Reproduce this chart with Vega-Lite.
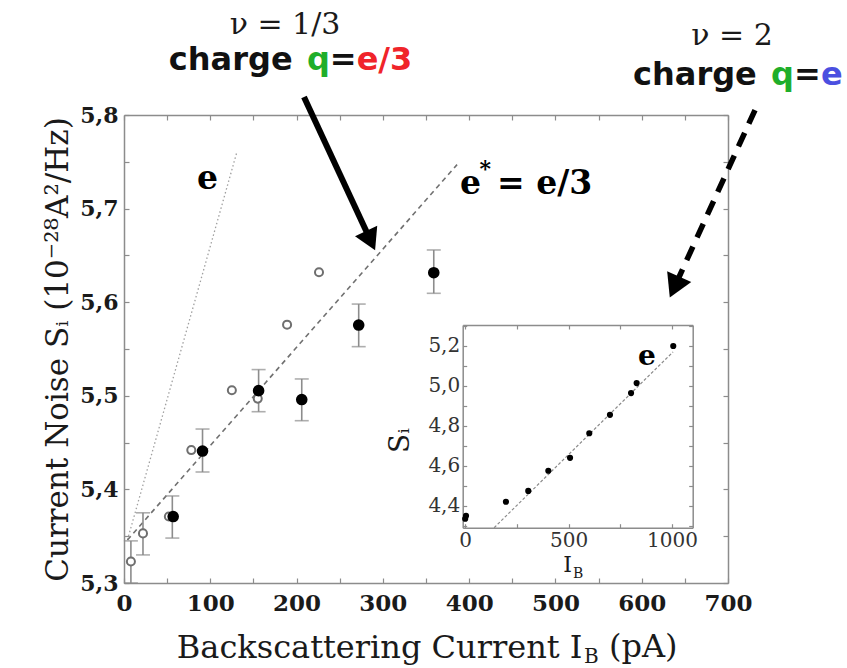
{
"$schema":"https://vega.github.io/schema/vega-lite/v6.json",
"width":604,"height":468,
"autosize":{"type":"none"},
"padding":{"left":124,"top":115,"right":119,"bottom":85},
"background":"white",
"config":{"view":{"stroke":null},"axis":{"grid":false,"labelFont":"DejaVu Serif","titleFont":"DejaVu Serif","domainColor":"#8c8c8c","tickColor":"#8c8c8c","domainWidth":1.5,"tickWidth":1.2,"labelColor":"#1a1a1a","titleColor":"#1a1a1a","titleFontWeight":"normal"}},
"resolve":{"scale":{"x":"independent","y":"independent"}},
"layer":[
{"layer":[
 {"data":{"values":[{"x":4,"y":5.346},{"x":131,"y":5.761}]},
  "mark":{"type":"line","color":"#a0a0a0","strokeWidth":1.3,"strokeDash":[1.5,2.5]},
  "encoding":{
   "x":{"field":"x","type":"quantitative","scale":{"domain":[0,700],"nice":false,"zero":false},
     "axis":{"orient":"bottom","values":[0,50,100,150,200,250,300,350,400,450,500,550,600,650,700],"labelExpr":"datum.value % 100 === 0 ? datum.label : ''","tickSize":-5,"labelPadding":14,"labelFontSize":23,"labelFontWeight":"bold","labelOverlap":false,"labelFlush":false,"title":"Backscattering Current I","titleFontSize":32,"titleX":458,"titleY":74,"titleBaseline":"alphabetic","titleAlign":"right"}},
   "y":{"field":"y","type":"quantitative","scale":{"domain":[5.3,5.8],"nice":false,"zero":false},
     "axis":{"orient":"left","values":[5.3,5.35,5.4,5.45,5.5,5.55,5.6,5.65,5.7,5.75,5.8],"labelExpr":"abs(datum.value*10 - round(datum.value*10)) < 0.001 ? replace(format(datum.value, '.1f'), '.', ',') : ''","tickSize":-5,"labelPadding":11,"labelFontSize":22,"labelFontWeight":"bold","labelOverlap":false,"labelFlush":false,"title":"Current Noise Sᵢ (10⁻²⁸A²/Hz)","titleFontSize":31,"titleX":-57,"titleY":234,"titleBaseline":"alphabetic","titleAngle":270,"titleAlign":"center"}}
  }},
 {"data":{"values":[{"x":4,"y":5.346},{"x":386,"y":5.747}]},
  "mark":{"type":"line","color":"#707070","strokeWidth":1.6,"strokeDash":[5,4]},
  "encoding":{
   "x":{"field":"x","type":"quantitative","scale":{"domain":[0,700],"nice":false,"zero":false},
     "axis":{"orient":"top","values":[0,50,100,150,200,250,300,350,400,450,500,550,600,650,700],"labels":false,"tickSize":-5,"title":null}},
   "y":{"field":"y","type":"quantitative","scale":{"domain":[5.3,5.8],"nice":false,"zero":false},
     "axis":{"orient":"right","values":[5.3,5.35,5.4,5.45,5.5,5.55,5.6,5.65,5.7,5.75,5.8],"labels":false,"tickSize":-5,"title":null}}
  }},
 {"data":{"values":[{"x":8,"lo":5.3,"hi":5.345},{"x":22,"lo":5.33,"hi":5.375},{"x":56,"lo":5.348,"hi":5.393},{"x":91,"lo":5.4186,"hi":5.4645},{"x":156,"lo":5.483,"hi":5.528},{"x":206,"lo":5.4734,"hi":5.518},{"x":272,"lo":5.5525,"hi":5.598},{"x":359,"lo":5.6095,"hi":5.6558}]},
  "mark":{"type":"rule","color":"#8c8c8c","strokeWidth":1.6},
  "encoding":{
   "x":{"field":"x","type":"quantitative","scale":{"domain":[0,700],"nice":false,"zero":false},"axis":null},
   "y":{"field":"lo","type":"quantitative","scale":{"domain":[5.3,5.8],"nice":false,"zero":false},"axis":null},
   "y2":{"field":"hi"}
  }},
 {"data":{"values":[{"x":8,"lo":5.3,"hi":5.345},{"x":22,"lo":5.33,"hi":5.375},{"x":56,"lo":5.348,"hi":5.393},{"x":91,"lo":5.4186,"hi":5.4645},{"x":156,"lo":5.483,"hi":5.528},{"x":206,"lo":5.4734,"hi":5.518},{"x":272,"lo":5.5525,"hi":5.598},{"x":359,"lo":5.6095,"hi":5.6558}]},
  "transform":[{"fold":["lo","hi"],"as":["end","v"]}],
  "mark":{"type":"tick","orient":"horizontal","color":"#8c8c8c","size":14,"thickness":1.6},
  "encoding":{
   "x":{"field":"x","type":"quantitative","scale":{"domain":[0,700],"nice":false,"zero":false},"axis":null},
   "y":{"field":"v","type":"quantitative","scale":{"domain":[5.3,5.8],"nice":false,"zero":false},"axis":null}
  }},
 {"data":{"values":[{"x":8,"y":5.323},{"x":22,"y":5.353},{"x":52,"y":5.371},{"x":78,"y":5.442},{"x":125,"y":5.506},{"x":155,"y":5.497},{"x":189,"y":5.576},{"x":226,"y":5.632}]},
  "mark":{"type":"circle","fill":"white","fillOpacity":1,"stroke":"#6f6f6f","strokeWidth":2,"size":65,"opacity":1},
  "encoding":{
   "x":{"field":"x","type":"quantitative","scale":{"domain":[0,700],"nice":false,"zero":false},"axis":null},
   "y":{"field":"y","type":"quantitative","scale":{"domain":[5.3,5.8],"nice":false,"zero":false},"axis":null}
  }},
 {"data":{"values":[{"x":57,"y":5.371},{"x":91,"y":5.441},{"x":156,"y":5.5055},{"x":206,"y":5.496},{"x":272,"y":5.5756},{"x":359,"y":5.6315}]},
  "mark":{"type":"circle","color":"#000","size":135,"opacity":1},
  "encoding":{
   "x":{"field":"x","type":"quantitative","scale":{"domain":[0,700],"nice":false,"zero":false},"axis":null},
   "y":{"field":"y","type":"quantitative","scale":{"domain":[5.3,5.8],"nice":false,"zero":false},"axis":null}
  }},
 {"data":{"values":[{"x":84.6,"y":5.7209,"t":"e"},{"x":389.4,"y":5.7156,"t":"e"},{"x":432.3,"y":5.7156,"t":"= e/3"}]},
  "mark":{"type":"text","align":"left","baseline":"alphabetic","font":"DejaVu Serif","fontWeight":"bold","fontSize":33,"color":"#000"},
  "encoding":{
   "x":{"field":"x","type":"quantitative","scale":{"domain":[0,700],"nice":false,"zero":false},"axis":null},
   "y":{"field":"y","type":"quantitative","scale":{"domain":[5.3,5.8],"nice":false,"zero":false},"axis":null},
   "text":{"field":"t"}
  }},
 {"data":{"values":[{"x":412,"y":5.7348,"t":"*"}]},
  "mark":{"type":"text","align":"left","baseline":"alphabetic","font":"DejaVu Serif","fontWeight":"bold","fontSize":22,"color":"#000"},
  "encoding":{
   "x":{"field":"x","type":"quantitative","scale":{"domain":[0,700],"nice":false,"zero":false},"axis":null},
   "y":{"field":"y","type":"quantitative","scale":{"domain":[5.3,5.8],"nice":false,"zero":false},"axis":null},
   "text":{"field":"t"}
  }},
 {"data":{"values":[{"x":533.1,"y":5.2145,"t":"B"}]},
  "mark":{"type":"text","align":"left","baseline":"alphabetic","font":"DejaVu Serif","fontSize":20,"color":"#1a1a1a"},
  "encoding":{
   "x":{"field":"x","type":"quantitative","scale":{"domain":[0,700],"nice":false,"zero":false},"axis":null},
   "y":{"field":"y","type":"quantitative","scale":{"domain":[5.3,5.8],"nice":false,"zero":false},"axis":null},
   "text":{"field":"t"}
  }},
 {"data":{"values":[{"x":562.1,"y":5.2209,"t":"(pA)"}]},
  "mark":{"type":"text","align":"left","baseline":"alphabetic","font":"DejaVu Serif","fontSize":32,"color":"#1a1a1a"},
  "encoding":{
   "x":{"field":"x","type":"quantitative","scale":{"domain":[0,700],"nice":false,"zero":false},"axis":null},
   "y":{"field":"y","type":"quantitative","scale":{"domain":[5.3,5.8],"nice":false,"zero":false},"axis":null},
   "text":{"field":"t"}
  }},
 {"data":{"values":[{"x":186.6,"y":5.8865,"t":"ν = 1/3"},{"x":704.6,"y":5.8748,"t":"ν = 2"}]},
  "mark":{"type":"text","align":"center","baseline":"alphabetic","font":"DejaVu Serif","fontSize":30,"color":"#1a1a1a"},
  "encoding":{
   "x":{"field":"x","type":"quantitative","scale":{"domain":[0,700],"nice":false,"zero":false},"axis":null},
   "y":{"field":"y","type":"quantitative","scale":{"domain":[5.3,5.8],"nice":false,"zero":false},"axis":null},
   "text":{"field":"t"}
  }},
 {"data":{"values":[{"x":52,"y":5.8486,"t":"charge"},{"x":238.5,"y":5.8486,"t":"="},{"x":590,"y":5.832,"t":"charge"},{"x":776.5,"y":5.832,"t":"="}]},
  "mark":{"type":"text","align":"left","baseline":"alphabetic","font":"DejaVu Sans","fontWeight":"bold","fontSize":32,"color":"#111"},
  "encoding":{
   "x":{"field":"x","type":"quantitative","scale":{"domain":[0,700],"nice":false,"zero":false},"axis":null},
   "y":{"field":"y","type":"quantitative","scale":{"domain":[5.3,5.8],"nice":false,"zero":false},"axis":null},
   "text":{"field":"t"}
  }},
 {"data":{"values":[{"x":212.0,"y":5.8486,"t":"q"},{"x":749.8,"y":5.832,"t":"q"}]},
  "mark":{"type":"text","align":"left","baseline":"alphabetic","font":"DejaVu Sans","fontWeight":"bold","fontSize":32,"color":"#1fae2a"},
  "encoding":{
   "x":{"field":"x","type":"quantitative","scale":{"domain":[0,700],"nice":false,"zero":false},"axis":null},
   "y":{"field":"y","type":"quantitative","scale":{"domain":[5.3,5.8],"nice":false,"zero":false},"axis":null},
   "text":{"field":"t"}
  }},
 {"data":{"values":[{"x":269.6,"y":5.8486,"t":"e/3"}]},
  "mark":{"type":"text","align":"left","baseline":"alphabetic","font":"DejaVu Sans","fontWeight":"bold","fontSize":32,"color":"#f0242a"},
  "encoding":{
   "x":{"field":"x","type":"quantitative","scale":{"domain":[0,700],"nice":false,"zero":false},"axis":null},
   "y":{"field":"y","type":"quantitative","scale":{"domain":[5.3,5.8],"nice":false,"zero":false},"axis":null},
   "text":{"field":"t"}
  }},
 {"data":{"values":[{"x":807.8,"y":5.832,"t":"e"}]},
  "mark":{"type":"text","align":"left","baseline":"alphabetic","font":"DejaVu Sans","fontWeight":"bold","fontSize":32,"color":"#4b4fe0"},
  "encoding":{
   "x":{"field":"x","type":"quantitative","scale":{"domain":[0,700],"nice":false,"zero":false},"axis":null},
   "y":{"field":"y","type":"quantitative","scale":{"domain":[5.3,5.8],"nice":false,"zero":false},"axis":null},
   "text":{"field":"t"}
  }},
 {"data":{"values":[{"x":208.6,"y":5.8192,"x2":285.8,"y2":5.6658}]},
  "mark":{"type":"rule","color":"#000","strokeWidth":6,"strokeCap":"butt"},
  "encoding":{
   "x":{"field":"x","type":"quantitative","scale":{"domain":[0,700],"nice":false,"zero":false},"axis":null},
   "y":{"field":"y","type":"quantitative","scale":{"domain":[5.3,5.8],"nice":false,"zero":false},"axis":null},
   "x2":{"field":"x2"},"y2":{"field":"y2"}
  }},
 {"data":{"values":[{"x":731.3,"y":5.8053,"x2":638.0,"y2":5.6162}]},
  "mark":{"type":"rule","color":"#000","strokeWidth":5.5,"strokeCap":"butt","strokeDash":[15,10]},
  "encoding":{
   "x":{"field":"x","type":"quantitative","scale":{"domain":[0,700],"nice":false,"zero":false},"axis":null},
   "y":{"field":"y","type":"quantitative","scale":{"domain":[5.3,5.8],"nice":false,"zero":false},"axis":null},
   "x2":{"field":"x2"},"y2":{"field":"y2"}
  }},
 {"data":{"values":[{"x":285.8,"y":5.6658}]},
  "mark":{"type":"point","shape":"triangle-up","filled":true,"color":"#000","opacity":1,"size":600,"angle":155},
  "encoding":{
   "x":{"field":"x","type":"quantitative","scale":{"domain":[0,700],"nice":false,"zero":false},"axis":null},
   "y":{"field":"y","type":"quantitative","scale":{"domain":[5.3,5.8],"nice":false,"zero":false},"axis":null}
  }},
 {"data":{"values":[{"x":638.0,"y":5.6162}]},
  "mark":{"type":"point","shape":"triangle-up","filled":true,"color":"#000","opacity":1,"size":700,"angle":204.3},
  "encoding":{
   "x":{"field":"x","type":"quantitative","scale":{"domain":[0,700],"nice":false,"zero":false},"axis":null},
   "y":{"field":"y","type":"quantitative","scale":{"domain":[5.3,5.8],"nice":false,"zero":false},"axis":null}
  }}
]},
{"layer":[
 {"data":{"values":[{"x":140,"y":4.29},{"x":1005,"y":5.17}]},
  "mark":{"type":"line","color":"#8a8a8a","strokeWidth":1.2,"strokeDash":[3,2]},
  "encoding":{
   "x":{"field":"x","type":"quantitative","scale":{"domain":[-12,1100],"range":[338.7,568.7],"nice":false,"zero":false},
     "axis":{"orient":"bottom","offset":-55.3,"values":[0,250,500,750,1000],"labelExpr":"datum.value % 500 === 0 ? format(datum.value, 'd') : ''","tickSize":-4,"labelPadding":7,"labelFontSize":20,"labelColor":"#333","labelOverlap":false,"labelFlush":false,"title":"I","titleFontSize":22,"titleX":443,"titleY":44,"titleBaseline":"alphabetic","titleAlign":"center"}},
   "y":{"field":"y","type":"quantitative","scale":{"domain":[4.29,5.305],"range":[412.7,210],"nice":false,"zero":false},
     "axis":{"orient":"left","offset":-338.7,"values":[4.3,4.4,4.5,4.6,4.7,4.8,4.9,5.0,5.1,5.2,5.3],"labelExpr":"round(datum.value*10) % 2 === 0 && datum.value > 4.35 && datum.value < 5.25 ? replace(format(datum.value, '.1f'), '.', ',') : ''","tickSize":-4,"labelPadding":7,"labelFontSize":20,"labelColor":"#333","labelOverlap":false,"labelFlush":false,"title":"Sᵢ","titleFontSize":28,"titleX":-54,"titleY":325,"titleBaseline":"alphabetic","titleAngle":270,"titleAlign":"center"}}
  }},
 {"data":{"values":[{"x":0,"y":4.335},{"x":4,"y":4.35},{"x":197,"y":4.42},{"x":305,"y":4.474},{"x":402,"y":4.575},{"x":507,"y":4.64},{"x":600,"y":4.763},{"x":700,"y":4.855},{"x":802,"y":4.964},{"x":829,"y":5.014},{"x":1006,"y":5.2}]},
  "mark":{"type":"circle","color":"#000","size":38,"opacity":1},
  "encoding":{
   "x":{"field":"x","type":"quantitative","scale":{"domain":[-12,1100],"range":[338.7,568.7],"nice":false,"zero":false},
     "axis":{"orient":"top","offset":-210,"values":[0,250,500,750,1000],"labels":false,"tickSize":-4,"title":null}},
   "y":{"field":"y","type":"quantitative","scale":{"domain":[4.29,5.305],"range":[412.7,210],"nice":false,"zero":false},
     "axis":{"orient":"right","offset":-35.3,"values":[4.3,4.4,4.5,4.6,4.7,4.8,4.9,5.0,5.1,5.2,5.3],"labels":false,"tickSize":-4,"title":null}}
  }},
 {"data":{"values":[{"x":835.5,"y":5.105,"t":"e"}]},
  "mark":{"type":"text","align":"left","baseline":"alphabetic","font":"DejaVu Serif","fontWeight":"bold","fontSize":28,"color":"#000"},
  "encoding":{
   "x":{"field":"x","type":"quantitative","scale":{"domain":[-12,1100],"range":[338.7,568.7],"nice":false,"zero":false},"axis":null},
   "y":{"field":"y","type":"quantitative","scale":{"domain":[4.29,5.305],"range":[412.7,210],"nice":false,"zero":false},"axis":null},
   "text":{"field":"t"}
  }},
 {"data":{"values":[{"x":521,"y":4.04,"t":"B"}]},
  "mark":{"type":"text","align":"left","baseline":"alphabetic","font":"DejaVu Serif","fontSize":14,"color":"#1a1a1a"},
  "encoding":{
   "x":{"field":"x","type":"quantitative","scale":{"domain":[-12,1100],"range":[338.7,568.7],"nice":false,"zero":false},"axis":null},
   "y":{"field":"y","type":"quantitative","scale":{"domain":[4.29,5.305],"range":[412.7,210],"nice":false,"zero":false},"axis":null},
   "text":{"field":"t"}
  }}
]}
]
}
